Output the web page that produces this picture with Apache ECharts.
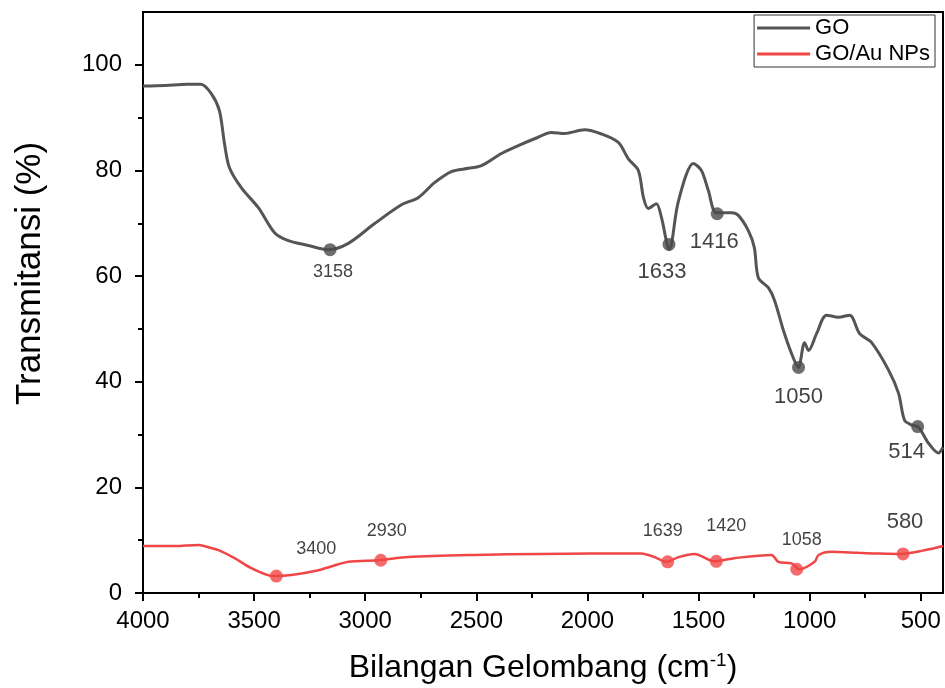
<!DOCTYPE html>
<html>
<head>
<meta charset="utf-8">
<script src="https://cdn.jsdelivr.net/npm/echarts@6/dist/echarts.min.js"></script>
<style>
  html, body { margin: 0; padding: 0; background: #fff; }
  #chart { width: 945px; height: 688px; }
</style>
</head>
<body>
<div id="chart"></div>
<script>
// GO spektrum (bilangan gelombang, transmitansi)
const goWave = [4000, 3900, 3800, 3740, 3692, 3656, 3633, 3611, 3557, 3480, 3408, 3346, 3256, 3166, 3076, 2959, 2837, 2760, 2688, 2612, 2536, 2477, 2387, 2311, 2238, 2162, 2103, 2013, 1937, 1861, 1816, 1771, 1748, 1726, 1690, 1667, 1645, 1633, 1622, 1590, 1523, 1487, 1456, 1420, 1352, 1321, 1276, 1249, 1231, 1186, 1158, 1118, 1082, 1051, 1023, 1005, 969, 924, 870, 820, 775, 721, 645, 600, 573, 540, 510, 466, 421, 400];
const goTrans = [96.0, 96.1, 96.3, 96.3, 94.5, 91.3, 85.0, 80.5, 76.7, 72.9, 68.2, 66.7, 65.8, 65.0, 66.2, 69.9, 73.5, 74.9, 77.7, 79.8, 80.4, 80.9, 83.2, 84.7, 86.0, 87.2, 87.0, 87.7, 86.9, 85.3, 82.2, 80.0, 74.9, 72.8, 73.7, 71.1, 66.7, 65.0, 66.0, 74.3, 81.3, 80.0, 76.2, 72.0, 72.0, 71.5, 68.6, 65.4, 59.7, 57.8, 55.4, 49.7, 45.4, 42.7, 47.4, 45.9, 49.1, 52.6, 52.2, 52.6, 49.1, 47.4, 42.2, 37.8, 32.7, 31.8, 31.4, 28.4, 26.5, 27.6];

// GO/Au NPs spektrum
const auWave = [4000, 3858, 3750, 3700, 3660, 3588, 3512, 3413, 3332, 3211, 3076, 2941, 2806, 2508, 2207, 1757, 1698, 1644, 1590, 1518, 1428, 1338, 1172, 1141, 1082, 1045, 978, 960, 901, 780, 708, 595, 483, 400];
const auTrans = [8.9, 8.9, 9.1, 8.6, 8.1, 6.6, 4.7, 3.2, 3.4, 4.3, 5.9, 6.2, 6.8, 7.2, 7.4, 7.5, 6.8, 5.9, 6.8, 7.4, 6.0, 6.6, 7.2, 5.9, 5.6, 4.5, 5.9, 7.2, 7.8, 7.6, 7.5, 7.4, 8.1, 8.9];

// puncak yang ditandai
const goPeakWave = [3158, 1633, 1416, 1050, 514];
const goPeakTrans = [65.0, 66.0, 71.8, 42.7, 31.5];
const auPeakWave = [3400, 2930, 1639, 1420, 1058, 580];
const auPeakTrans = [3.2, 6.2, 5.9, 6.0, 4.5, 7.4];

// tick
const xMajorTicks = [500, 1000, 1500, 2000, 2500, 3000, 3500, 4000];
const xMinorTicks = [750, 1250, 1750, 2250, 2750, 3250, 3750];
const yMajorTicks = [0, 20, 40, 60, 80, 100];
const yMinorTicks = [10, 30, 50, 70, 90];

const GO_COLOR = '#555555';
const AU_COLOR = '#f04646';
const FONT = "'Liberation Sans', Arial, sans-serif";

// label offsets [dx, dy, fontSize]
const goLabelStyle = [[3, 22, 18], [-7, 28, 22], [-3, 28, 22], [0, 29, 22], [-11, 25, 22]];
const auLabelStyle = [[40, -27, 18], [6, -29, 18], [-5, -31, 18], [10, -35, 18], [5, -29, 18], [2, -32, 22]];

function pairs (xs, ys) {
  return xs.map((x, i) => [x, ys[i]]);
}

function peakData (xs, ys, styles) {
  return xs.map((x, i) => ({
    value: [x, ys[i]],
    label: {
      offset: [styles[i][0], styles[i][1]],
      fontSize: styles[i][2]
    }
  }));
}

const axisLineStyle = { color: '#000', width: 2 };
const plain = v => String(v);

const chart = echarts.init(document.getElementById('chart'));
chart.setOption({
  animation: false,
  textStyle: { fontFamily: FONT },
  grid: {
    left: 143, right: 2, top: 12, bottom: 95,
    outerBoundsMode: 'none',
    show: true, borderColor: '#000', borderWidth: 2
  },
  legend: {
    data: ['GO', 'GO/Au NPs'],
    orient: 'vertical',
    right: 10,
    top: 15,
    icon: 'rect',
    itemWidth: 53,
    itemHeight: 3,
    itemGap: 4,
    padding: [2, 5, 2, 3],
    borderColor: '#333',
    borderWidth: 1,
    textStyle: { fontSize: 22, color: '#000', fontFamily: FONT }
  },
  xAxis: [
    {
      type: 'value',
      min: 400, max: 4000, inverse: true,
      position: 'bottom',
      name: '{n|Bilangan Gelombang (cm}{s|-1}{n|)}',
      nameLocation: 'middle',
      nameGap: 58,
      nameTextStyle: {
        rich: {
          n: { fontSize: 32, color: '#000', fontFamily: FONT },
          s: { fontSize: 19, color: '#000', fontFamily: FONT, padding: [0, 0, 16, 0] }
        }
      },
      axisLine: { lineStyle: axisLineStyle },
      axisTick: { customValues: xMajorTicks, length: 8, lineStyle: axisLineStyle },
      axisLabel: { customValues: xMajorTicks, fontSize: 24, color: '#000', margin: 16, formatter: plain },
      splitLine: { show: false }
    },
    {
      type: 'value',
      min: 400, max: 4000, inverse: true,
      position: 'bottom',
      axisLine: { show: false },
      axisTick: { customValues: xMinorTicks, length: 5, lineStyle: axisLineStyle },
      axisLabel: { show: false },
      splitLine: { show: false }
    }
  ],
  yAxis: [
    {
      type: 'value',
      min: 0, max: 110,
      position: 'left',
      name: 'Transmitansi (%)',
      nameLocation: 'middle',
      nameGap: 95,
      nameTextStyle: { fontSize: 35, color: '#000', padding: [0, 0, 0, 58] },
      axisLine: { lineStyle: axisLineStyle },
      axisTick: { customValues: yMajorTicks, length: 8, lineStyle: axisLineStyle },
      axisLabel: { customValues: yMajorTicks, fontSize: 24, color: '#000', margin: 21, formatter: plain },
      splitLine: { show: false }
    },
    {
      type: 'value',
      min: 0, max: 110,
      position: 'left',
      axisLine: { show: false },
      axisTick: { customValues: yMinorTicks, length: 5, lineStyle: axisLineStyle },
      axisLabel: { show: false },
      splitLine: { show: false }
    }
  ],
  series: [
    {
      name: 'GO',
      type: 'line',
      data: pairs(goWave, goTrans),
      symbol: 'none',
      smooth: 0.3,
      color: GO_COLOR,
      lineStyle: { color: GO_COLOR, width: 3 }
    },
    {
      name: 'GO/Au NPs',
      type: 'line',
      data: pairs(auWave, auTrans),
      symbol: 'none',
      smooth: 0.3,
      color: AU_COLOR,
      lineStyle: { color: AU_COLOR, width: 2.5 }
    },
    {
      name: 'GO peaks',
      type: 'scatter',
      data: peakData(goPeakWave, goPeakTrans, goLabelStyle),
      symbolSize: 13,
      itemStyle: { color: '#4a4a4a' },
      label: {
        show: true,
        position: 'inside',
        color: '#111',
        formatter: p => String(p.value[0])
      },
      z: 5
    },
    {
      name: 'GO/Au peaks',
      type: 'scatter',
      data: peakData(auPeakWave, auPeakTrans, auLabelStyle),
      symbolSize: 13,
      itemStyle: { color: AU_COLOR },
      label: {
        show: true,
        position: 'inside',
        color: '#111',
        formatter: p => String(p.value[0])
      },
      z: 5
    }
  ]
});
</script>
</body>
</html>
